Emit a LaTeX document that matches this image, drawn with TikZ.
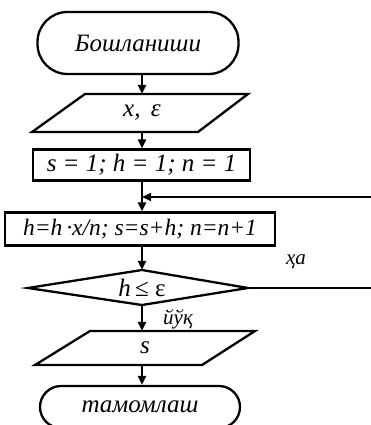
\documentclass[tikz,border=0pt]{standalone}
\usepackage{fontspec}
\setmainfont{Liberation Serif}
\usetikzlibrary{arrows.meta}
\begin{document}
\begin{tikzpicture}[x=1pt,y=-1pt,
  outl/.style={draw,line width=2.3pt},
  term/.style={outl,rounded corners=30pt,minimum width=201pt,minimum height=62pt,inner sep=0pt},
  procbox/.style={outl,minimum height=31pt,inner sep=0pt},
  slot/.style={inner sep=0pt,minimum width=120pt},
  txt/.style={font=\itshape\fontsize{25}{28}\selectfont},
  flow/.style={line width=2.5pt,-{Triangle[length=9pt,width=8pt]}},
  lbl/.style={font=\itshape\fontsize{21}{23}\selectfont}]
\useasboundingbox (0,0) rectangle (371,425);
% start
\node[term,txt] (start) at (138,43) {Бошланиши};
% input x, eps
\draw[outl] (85,94) -- (248,94) -- (198,132) -- (32,132) -- cycle;
\node[slot,minimum height=38pt,txt] (in) at (142,113) {x,\, ε};
% init
\node[procbox,txt,minimum width=217pt] (init) at (141.5,165) {s = 1; h = 1; n = 1};
% body
\node[procbox,minimum width=270pt,minimum height=33pt,font=\itshape\fontsize{23.5}{26}\selectfont] (body) at (140,229) {h=h\,·x/n; s=s+h; n=n+1};
\coordinate (join) at (142,197);
\coordinate (fbin) at (371,197);
% decision
\draw[outl] (28,288) -- (142,270) -- (248,288) -- (142,305) -- cycle;
\node[slot,minimum height=35pt,font=\fontsize{25}{28}\selectfont] (dec) at (142,287.5) {\textit{h}\,≤ ε};
\coordinate (decR) at (248,288);
\coordinate (yesend) at (371,288);
% output s
\draw[outl] (90,331) -- (255,331) -- (202,365) -- (35,365) -- cycle;
\node[slot,minimum height=34pt,txt] (out) at (145,348) {s};
% end
\node[term,txt,minimum width=200pt,minimum height=42pt,rounded corners=21pt] (stop) at (140,407) {тамомлаш};
% connectors
\draw[flow] (142,74) -- (in.north);
\draw[flow] (in.south) -- (init.north-|in.south);
\draw[line width=2.5pt] (init.south-|in.south) -- (join);
\draw[flow] (join) -- (body.north-|join);
\draw[flow,line width=2pt] (fbin) -- (join);
\draw[flow] (body.south-|join) -- (dec.north);
\draw[line width=2pt] (decR) -- (yesend);
\draw[flow] (dec.south) -- (out.north-|dec.south);
\draw[flow] (out.south-|dec.south) -- (stop.north-|dec.south);
\node[lbl] (yes) at (296,262) {ҳа};
\node[lbl] (no) at (178,319) {йўқ};
\end{tikzpicture}
\end{document}
